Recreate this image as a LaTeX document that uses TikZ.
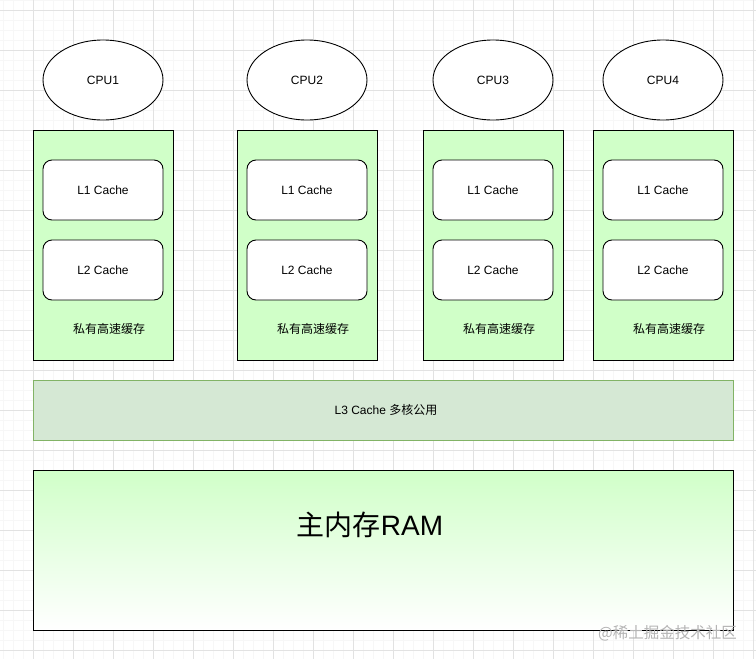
\documentclass[tikz,border=0pt]{standalone}
\usepackage{fontspec}
\setmainfont{Liberation Sans}
\newfontfamily\cjk{Noto Sans CJK SC}
\usetikzlibrary{shapes.geometric}
\definecolor{privgreen}{HTML}{D0FFC8}
\definecolor{lthreefill}{HTML}{D5E8D4}
\definecolor{lthreedraw}{HTML}{82B366}
\definecolor{minorline}{HTML}{F7F7F7}
\definecolor{majorline}{HTML}{E2E2E2}
\definecolor{wmark}{HTML}{B4B4B4}
\tikzset{
  minorgrid/.style={draw=minorline, line width=0.6pt},
  majorgrid/.style={draw=majorline, line width=0.8pt},
  cpu/.style={ellipse, draw=black, fill=white, line width=0.9pt, minimum width=120pt, minimum height=80pt, inner sep=0pt, font=\fontsize{12}{14}\selectfont},
  privbox/.style={rectangle, draw=black, fill=privgreen, line width=0.9pt, minimum width=140pt, minimum height=230pt, inner sep=0pt},
  cachebox/.style={rectangle, rounded corners=9pt, draw=black, fill=white, line width=0.9pt, minimum width=120pt, minimum height=60pt, inner sep=0pt, font=\fontsize{12}{14}\selectfont},
  privlabel/.style={inner sep=0pt, font=\cjk\fontsize{12}{14}\selectfont},
  lthreebox/.style={rectangle, draw=lthreedraw, fill=lthreefill, line width=0.9pt, minimum width=700pt, minimum height=60pt, inner sep=0pt, font=\fontsize{12}{14}\selectfont},
  rambox/.style={rectangle, draw=black, top color=privgreen, bottom color=white, line width=0.9pt, minimum width=700pt, minimum height=160pt, inner sep=0pt},
  ramlabel/.style={inner sep=0pt, font=\fontsize{28}{32}\selectfont},
  watermark/.style={inner sep=0pt, text=wmark, font=\cjk\fontsize{15.5}{18}\selectfont}
}
\begin{document}
\begin{tikzpicture}[x=1pt,y=-1pt]
\useasboundingbox (0,0) rectangle (756,659);
\fill[white] (0,0) rectangle (756,659);
% grid
\foreach \x in {3,13,...,753} \draw[minorgrid] (\x,0) -- (\x,659);
\foreach \y in {0,10,...,650} \draw[minorgrid] (0,\y) -- (756,\y);
\foreach \x in {33,73,...,753} \draw[majorgrid] (\x,0) -- (\x,659);
\foreach \y in {10,50,...,650} \draw[majorgrid] (0,\y) -- (756,\y);
% CPUs
\node[cpu] (cpu1) at (103,80) {CPU1};
\node[cpu] (cpu2) at (307,80) {CPU2};
\node[cpu] (cpu3) at (493,80) {CPU3};
\node[cpu] (cpu4) at (663,80) {CPU4};
% private caches
\foreach \i/\cx in {1/103,2/307,3/493,4/663}{
  \node[privbox] (box\i) at (\cx,245) {};
  \node[cachebox] (lone\i) at (\cx,190) {L1 Cache};
  \node[cachebox] (ltwo\i) at (\cx,270) {L2 Cache};
  \node[privlabel] (priv\i) at (\cx+6,329) {私有高速缓存};
}
% L3
\node[lthreebox] (l3) at (383,410) {};
\node[inner sep=0pt, font=\fontsize{12}{14}\selectfont] (l3text) at (386,410) {L3 Cache {\cjk 多核公用}};
% RAM
\node[rambox] (ram) at (383,550) {};
\node[ramlabel] (ramtext) at (370,525) {{\cjk 主内存}RAM};
% watermark
\node[watermark, anchor=east] (wm) at (737,633) {@稀土掘金技术社区};
\end{tikzpicture}
\end{document}
